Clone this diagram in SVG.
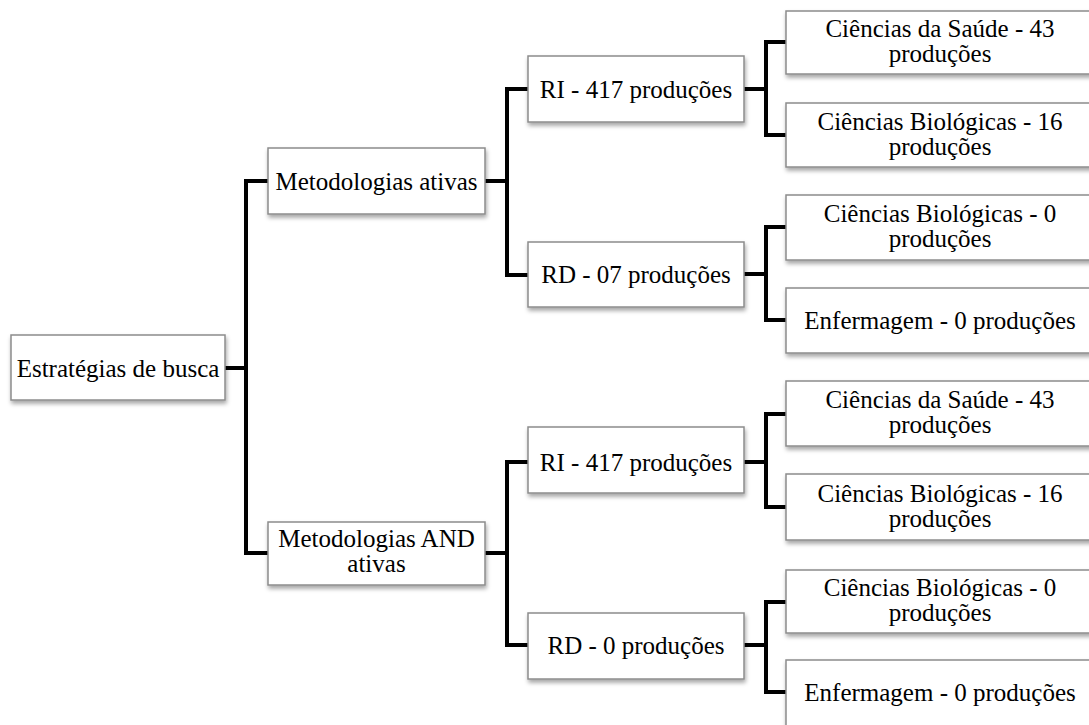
<svg xmlns="http://www.w3.org/2000/svg" width="1089" height="725" viewBox="0 0 1089 725">
<defs>
<filter id="sh" x="-10%" y="-20%" width="130%" height="160%">
<feDropShadow dx="1" dy="3" stdDeviation="2" flood-color="#000" flood-opacity="0.35"/>
</filter>
</defs>
<style>
.box{fill:#fff;stroke:#8c8c8c;stroke-width:1.5;filter:url(#sh)}
.t{font-family:"Liberation Serif","Times New Roman",serif;font-size:25px;fill:#000;text-anchor:middle}
.c{fill:none;stroke:#000;stroke-width:4;stroke-linejoin:miter;stroke-linecap:butt}
</style>
<rect width="1089" height="725" fill="#fff"/>
<g id="connectors">
<path class="c" d="M225 368H246M268 181H246V553H268"/>
<path class="c" d="M485 181H507M528 89H507V275H528"/>
<path class="c" d="M744 89H766M786 42H766V135H786"/>
<path class="c" d="M744 274H766M786 227H766V320H786"/>
<path class="c" d="M485 553H507M528 462H507V645H528"/>
<path class="c" d="M744 462H766M786 414H766V507H786"/>
<path class="c" d="M744 645H766M786 602H766V692H786"/>
</g>
<g id="root"><rect class="box" x="11" y="335" width="214" height="65"/><text class="t" x="118" y="376.5">Estratégias de busca</text></g>
<g id="met-ativas"><rect class="box" x="268" y="148" width="217" height="66"/><text class="t" x="376.5" y="190">Metodologias ativas</text></g>
<g id="met-and"><rect class="box" x="268" y="522" width="217" height="63"/><text class="t" x="376.5" y="547">Metodologias AND</text><text class="t" x="376.5" y="572">ativas</text></g>
<g id="ri-1"><rect class="box" x="528" y="56" width="216" height="66"/><text class="t" x="636" y="98">RI - 417 produções</text></g>
<g id="rd-1"><rect class="box" x="528" y="242" width="216" height="65"/><text class="t" x="636" y="283">RD - 07 produções</text></g>
<g id="ri-2"><rect class="box" x="528" y="427" width="216" height="66"/><text class="t" x="636" y="470.5">RI - 417 produções</text></g>
<g id="rd-2"><rect class="box" x="528" y="613" width="216" height="66"/><text class="t" x="636" y="654">RD - 0 produções</text></g>
<g id="leaf-1"><rect class="box" x="786" y="11" width="310" height="63"/><text class="t" x="940" y="37">Ciências da Saúde - 43</text><text class="t" x="940" y="62">produções</text></g>
<g id="leaf-2"><rect class="box" x="786" y="103" width="310" height="64"/><text class="t" x="940" y="130">Ciências Biológicas - 16</text><text class="t" x="940" y="155">produções</text></g>
<g id="leaf-3"><rect class="box" x="786" y="195" width="310" height="65"/><text class="t" x="940" y="222">Ciências Biológicas - 0</text><text class="t" x="940" y="247">produções</text></g>
<g id="leaf-4"><rect class="box" x="786" y="288" width="310" height="65"/><text class="t" x="940" y="329">Enfermagem - 0 produções</text></g>
<g id="leaf-5"><rect class="box" x="786" y="381" width="310" height="65"/><text class="t" x="940" y="408">Ciências da Saúde - 43</text><text class="t" x="940" y="433">produções</text></g>
<g id="leaf-6"><rect class="box" x="786" y="474" width="310" height="66"/><text class="t" x="940" y="502">Ciências Biológicas - 16</text><text class="t" x="940" y="527">produções</text></g>
<g id="leaf-7"><rect class="box" x="786" y="570" width="310" height="63"/><text class="t" x="940" y="596">Ciências Biológicas - 0</text><text class="t" x="940" y="621">produções</text></g>
<g id="leaf-8"><rect class="box" x="786" y="660" width="310" height="70"/><text class="t" x="940" y="701">Enfermagem - 0 produções</text></g>
</svg>
